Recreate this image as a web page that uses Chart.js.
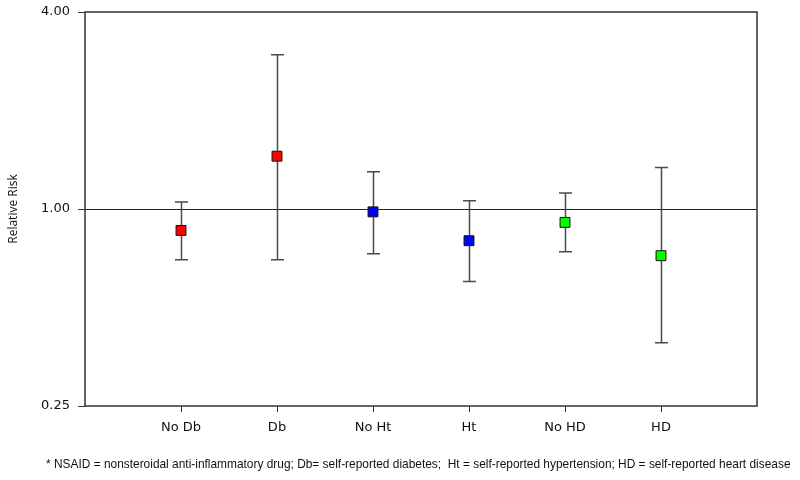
<!DOCTYPE html>
<html>
<head>
<meta charset="utf-8">
<script src="https://cdn.jsdelivr.net/npm/chart.js@4.4.0/dist/chart.umd.min.js"></script>
<style>
    html, body { margin: 0; padding: 0; background: #fff; }
    #wrap { position: relative; width: 800px; height: 480px; }
</style>
</head>
<body>
<div id="wrap"><canvas id="chart" width="800" height="480"></canvas></div>
<script>
// Relative risk with 95% CI per subgroup
const categories = ['No Db', 'Db', 'No Ht', 'Ht', 'No HD', 'HD'];
const relativeRisk = [0.86, 1.45, 0.98, 0.80, 0.91, 0.72];
const lowerCI = [0.70, 0.70, 0.73, 0.60, 0.74, 0.39];
const upperCI = [1.05, 2.96, 1.30, 1.06, 1.12, 1.34];
const yTicks = [0.25, 1, 4];
const footnote = '* NSAID = nonsteroidal anti-inflammatory drug; Db= self-reported diabetes;  Ht = self-reported hypertension; HD = self-reported heart disease';

const markerColors = ['#ff0000', '#ff0000', '#0000ff', '#0000ff', '#00ff00', '#00ff00'];
const tickFont = { family: '"DejaVu Sans", Verdana, sans-serif', size: 13 };

// whiskers, reference line, frame and footnote
const extrasPlugin = {
    id: 'extras',
    beforeDatasetsDraw(chart) {
        const { ctx, chartArea: a, scales: { x, y } } = chart;
        ctx.save();

        // reference line at RR = 1
        const y1 = Math.round(y.getPixelForValue(1)) + 0.5;
        ctx.strokeStyle = '#222';
        ctx.lineWidth = 1;
        ctx.beginPath();
        ctx.moveTo(a.left, y1);
        ctx.lineTo(a.right, y1);
        ctx.stroke();

        // error bars
        ctx.strokeStyle = '#4a4a4a';
        ctx.lineWidth = 1.5;
        categories.forEach((c, i) => {
            const px = Math.round(x.getPixelForValue(i + 1)) + 0.5;
            const top = y.getPixelForValue(upperCI[i]);
            const bot = y.getPixelForValue(lowerCI[i]);
            ctx.beginPath();
            ctx.moveTo(px, top);
            ctx.lineTo(px, bot);
            ctx.moveTo(px - 6.5, top);
            ctx.lineTo(px + 6.5, top);
            ctx.moveTo(px - 6.5, bot);
            ctx.lineTo(px + 6.5, bot);
            ctx.stroke();
        });

        // plot frame
        ctx.strokeStyle = '#333';
        ctx.lineWidth = 1.5;
        ctx.strokeRect(a.left, a.top, a.right - a.left, a.bottom - a.top);
        ctx.restore();
    },
    afterDraw(chart) {
        const { ctx } = chart;
        ctx.save();
        ctx.fillStyle = '#111';
        // shrink/grow the footnote so it spans the same width as the original
        let size = 12;
        ctx.font = size + 'px "Liberation Sans Narrow", "Liberation Sans", sans-serif';
        const w = ctx.measureText(footnote).width;
        size = size * 745 / w;
        ctx.font = size.toFixed(2) + 'px "Liberation Sans Narrow", "Liberation Sans", sans-serif';
        ctx.textBaseline = 'middle';
        ctx.textAlign = 'left';
        ctx.fillText(footnote, 46, 465);
        ctx.restore();
    }
};

const noScalePadding = (scale) => {
    scale.paddingTop = 0;
    scale.paddingBottom = 0;
    scale.paddingLeft = 0;
    scale.paddingRight = 0;
};

const ctx = document.getElementById('chart').getContext('2d');
new Chart(ctx, {
    type: 'scatter',
    data: {
        datasets: [{
            data: relativeRisk.map((v, i) => ({ x: i + 1, y: v })),
            pointStyle: 'rect',
            pointRadius: 7,
            pointHoverRadius: 7,
            pointBackgroundColor: markerColors,
            pointBorderColor: '#111',
            pointBorderWidth: 1
        }]
    },
    options: {
        responsive: false,
        animation: false,
        events: [],
        layout: { padding: { top: 12, right: 43, bottom: 0, left: 0 } },
        plugins: {
            legend: { display: false },
            tooltip: { enabled: false }
        },
        scales: {
            x: {
                type: 'linear',
                min: 0,
                max: categories.length + 1,
                afterBuildTicks: (scale) => {
                    scale.ticks = categories.map((c, i) => ({ value: i + 1 }));
                },
                afterFit: (scale) => { scale.height = 74; noScalePadding(scale); },
                grid: { drawOnChartArea: false, drawTicks: true, tickLength: 6, color: '#333' },
                border: { display: false },
                ticks: {
                    font: tickFont,
                    color: '#111',
                    padding: 8,
                    maxRotation: 0,
                    autoSkip: false,
                    callback: (v) => categories[v - 1] || ''
                }
            },
            y: {
                type: 'logarithmic',
                min: 0.25,
                max: 4,
                afterBuildTicks: (scale) => {
                    scale.ticks = yTicks.map(v => ({ value: v }));
                },
                afterFit: (scale) => { scale.width = 85; noScalePadding(scale); },
                grid: { drawOnChartArea: false, drawTicks: true, tickLength: 7, color: '#333' },
                border: { display: false },
                title: {
                    display: true,
                    text: 'Relative Risk',
                    font: { family: '"Open Sans", "Liberation Sans", sans-serif', size: 12 },
                    color: '#111',
                    padding: { top: 6, bottom: 0 }
                },
                ticks: {
                    font: tickFont,
                    color: '#111',
                    padding: 8,
                    callback: (v) => Number(v).toFixed(2)
                }
            }
        }
    },
    plugins: [extrasPlugin]
});
</script>
</body>
</html>
